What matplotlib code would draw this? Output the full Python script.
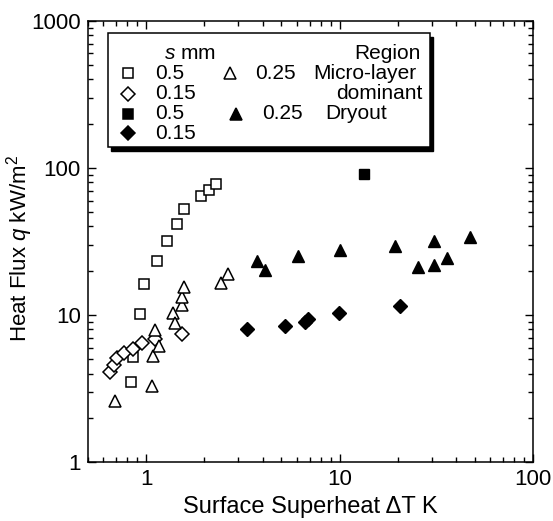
import matplotlib
matplotlib.use("Agg")
import matplotlib.pyplot as plt
from matplotlib.patches import Rectangle
from matplotlib.ticker import LogLocator, NullFormatter, FixedLocator, FixedFormatter

plt.rcParams.update({
    "font.family": ["Liberation Sans", "DejaVu Sans"],
    "font.size": 15,
    "mathtext.fontset": "custom",
    "mathtext.rm": "Liberation Sans",
    "mathtext.it": "Liberation Sans:italic",
})

# open squares: s = 0.5 mm, micro-layer dominant
sq_open_x = [0.83, 0.85, 0.93, 0.97, 1.14, 1.28, 1.44, 1.57, 1.92, 2.12, 2.30]
sq_open_y = [3.5, 5.2, 10.1, 16.3, 23.4, 31.9, 41.6, 52.4, 64.9, 70.8, 77.8]
# open diamonds: s = 0.15 mm, micro-layer dominant
dia_open_x = [0.65, 0.68, 0.71, 0.77, 0.85, 0.95, 1.11, 1.54]
dia_open_y = [4.1, 4.6, 5.07, 5.5, 5.9, 6.5, 6.9, 7.4]
# open triangles: s = 0.25 mm, micro-layer dominant
tri_open_x = [0.69, 1.07, 1.08, 1.17, 1.11, 1.37, 1.41, 1.54, 1.54, 1.57, 2.44, 2.64]
tri_open_y = [2.6, 3.3, 5.3, 6.15, 7.9, 10.3, 8.8, 11.7, 13.3, 15.6, 16.4, 18.9]
# filled square: s = 0.5 mm, dryout
sq_fill_x = [13.4]
sq_fill_y = [91.0]
# filled diamonds: s = 0.15 mm, dryout
dia_fill_x = [3.32, 5.23, 6.63, 6.9, 9.9, 20.6]
dia_fill_y = [8.0, 8.45, 8.95, 9.4, 10.4, 11.6]
# filled triangles: s = 0.25 mm, dryout
tri_fill_x = [3.74, 4.12, 6.08, 10.1, 19.3, 25.3, 30.7, 30.7, 35.7, 47.2]
tri_fill_y = [23.4, 20.2, 25.2, 27.7, 29.5, 21.3, 21.9, 32.0, 24.3, 33.8]

fig = plt.figure(figsize=(5.53, 5.21), dpi=100)
ax = fig.add_axes([0.159, 0.113, 0.805, 0.847])

open_kw = dict(linestyle="none", markerfacecolor="white", markeredgecolor="black", markeredgewidth=1.1)
fill_kw = dict(linestyle="none", color="black")

ax.plot(sq_open_x, sq_open_y, marker="s", markersize=7.5, **open_kw)
ax.plot(dia_open_x, dia_open_y, marker="D", markersize=7.2, **open_kw)
ax.plot(tri_open_x, tri_open_y, marker="^", markersize=8.5, **open_kw)
ax.plot(sq_fill_x, sq_fill_y, marker="s", markersize=7.5, **fill_kw)
ax.plot(dia_fill_x, dia_fill_y, marker="D", markersize=7.5, **fill_kw)
ax.plot(tri_fill_x, tri_fill_y, marker="^", markersize=9, **fill_kw)

ax.set_xscale("log")
ax.set_yscale("log")
ax.set_xlim(0.5, 100)
ax.set_ylim(1, 1000)

ax.xaxis.set_major_locator(FixedLocator([1, 10, 100]))
ax.xaxis.set_major_formatter(FixedFormatter(["1", "10", "100"]))
ax.yaxis.set_major_locator(FixedLocator([1, 10, 100, 1000]))
ax.yaxis.set_major_formatter(FixedFormatter(["1", "10", "100", "1000"]))
ax.xaxis.set_minor_locator(LogLocator(base=10, subs=range(2, 10)))
ax.yaxis.set_minor_locator(LogLocator(base=10, subs=range(2, 10)))
ax.xaxis.set_minor_formatter(NullFormatter())
ax.yaxis.set_minor_formatter(NullFormatter())
ax.tick_params(which="both", direction="in", top=True, right=True, width=1.0)
ax.tick_params(which="major", length=6, labelsize=16, pad=5)
ax.tick_params(which="minor", length=3.5)
for sp in ax.spines.values():
    sp.set_linewidth(1.1)

ax.set_xlabel("Surface Superheat \u0394T K", fontsize=17, labelpad=4)
ax.set_ylabel("Heat Flux $q$ kW/m$^2$", fontsize=16)
ax.yaxis.set_label_coords(-0.118, 0.485)

# legend box with drop shadow, laid out as a small table
tr = ax.transAxes
x0, y0, w, h = 0.045, 0.714, 0.724, 0.258
ax.add_patch(Rectangle((x0 + 0.007, y0 - 0.008), w, h, transform=tr, facecolor="black",
                       edgecolor="black", zorder=5, clip_on=False))
ax.add_patch(Rectangle((x0, y0), w, h, transform=tr, facecolor="white",
                       edgecolor="black", linewidth=1.1, zorder=6, clip_on=False))

rows = [0.926, 0.881, 0.835, 0.790, 0.745]
mx1, tx1 = 0.090, 0.150
mx2, tx2 = 0.320, 0.375
kw = dict(transform=tr, zorder=7, fontsize=15, va="center")
ax.text(0.230, rows[0], "$s$ mm", ha="center", **kw)
ax.text(0.747, rows[0], "Region", ha="right", **kw)

legend_rows = [
    (mx1, tx1, rows[1], "s", "white", 7.5, "0.5"),
    (mx1, tx1, rows[2], "D", "white", 7.2, "0.15"),
    (mx1, tx1, rows[3], "s", "black", 7.5, "0.5"),
    (mx1, tx1, rows[4], "D", "black", 7.5, "0.15"),
    (mx2, tx2, rows[1], "^", "white", 8.5, "0.25"),
    (mx2 + 0.012, tx2 + 0.016, rows[3], "^", "black", 9, "0.25"),
]
for mx, tx, ry, mk, fc, ms, lab in legend_rows:
    ax.plot([mx], [ry], marker=mk, markersize=ms, markerfacecolor=fc, markeredgecolor="black",
            markeredgewidth=1.1, linestyle="none", transform=tr, zorder=7, clip_on=False)
    ax.text(tx, ry, lab, ha="left", **kw)

ax.text(0.506, rows[1], "Micro-layer", ha="left", **kw)
ax.text(0.752, rows[2], "dominant", ha="right", **kw)
ax.text(0.533, rows[3], "Dryout", ha="left", **kw)

fig.savefig("out.png", dpi=100)
